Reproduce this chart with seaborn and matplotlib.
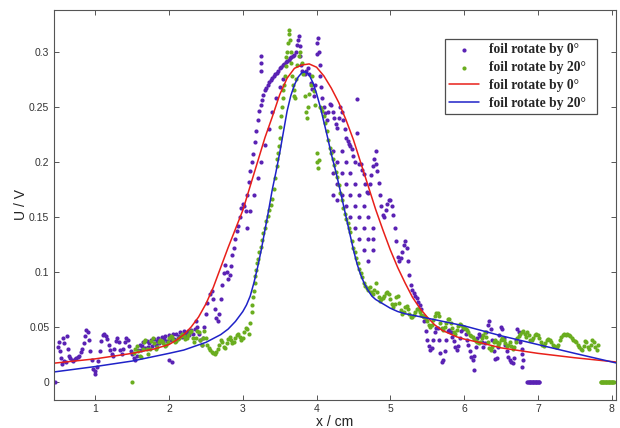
import matplotlib
matplotlib.use("Agg")
import matplotlib.pyplot as plt
import seaborn as sns
import pandas as pd

# ---------------- data ----------------
foil0_points = [
    (0.45, 0.000), (0.50, 0.032), (0.51, 0.036), (0.52, 0.028), (0.53, 0.022), (0.55, 0.016),
    (0.56, 0.040), (0.57, 0.035), (0.58, 0.019), (0.60, 0.018), (0.62, 0.042), (0.63, 0.030),
    (0.64, 0.024), (0.66, 0.022), (0.68, 0.020), (0.70, 0.019), (0.72, 0.021), (0.74, 0.022),
    (0.76, 0.023), (0.78, 0.024), (0.80, 0.027), (0.82, 0.030), (0.84, 0.035), (0.86, 0.042),
    (0.88, 0.047), (0.895, 0.045), (0.91, 0.038), (0.93, 0.028), (0.95, 0.020), (0.97, 0.012),
    (0.99, 0.007), (1.00, 0.010), (1.02, 0.014), (1.04, 0.019), (1.06, 0.028), (1.08, 0.037),
    (1.10, 0.043), (1.12, 0.044), (1.14, 0.042), (1.16, 0.039), (1.18, 0.034), (1.20, 0.029),
    (1.22, 0.025), (1.24, 0.024), (1.26, 0.030), (1.28, 0.037), (1.30, 0.040), (1.32, 0.036),
    (1.34, 0.029), (1.36, 0.025), (1.38, 0.030), (1.40, 0.036), (1.42, 0.040), (1.44, 0.038),
    (1.46, 0.033), (1.48, 0.028), (1.50, 0.025), (1.52, 0.022), (1.54, 0.020), (1.56, 0.024),
    (1.58, 0.029), (1.60, 0.034), (1.65, 0.036), (1.70, 0.037), (1.75, 0.038), (1.80, 0.039),
    (1.85, 0.040), (1.90, 0.041), (1.95, 0.042), (2.00, 0.043), (2.05, 0.044), (2.10, 0.044),
    (2.15, 0.045), (2.20, 0.046), (2.25, 0.046), (2.30, 0.047), (2.35, 0.048),
    (1.62, 0.029), (1.67, 0.031), (1.72, 0.032), (1.77, 0.033), (1.82, 0.034), (1.87, 0.035),
    (1.92, 0.036), (1.97, 0.037), (2.02, 0.038), (2.07, 0.039), (2.12, 0.040), (2.17, 0.041),
    (2.22, 0.042), (2.27, 0.043), (2.32, 0.044), (1.63, 0.033), (1.73, 0.035), (1.83, 0.037),
    (1.93, 0.039), (2.03, 0.041), (2.13, 0.042), (2.23, 0.044), (2.00, 0.020), (2.04, 0.018),
    (2.36, 0.055), (2.38, 0.050), (2.40, 0.044), (2.42, 0.038), (2.44, 0.034), (2.46, 0.040),
    (2.48, 0.050), (2.50, 0.062), (2.52, 0.072), (2.55, 0.080), (2.58, 0.083), (2.60, 0.075),
    (2.62, 0.066), (2.64, 0.058), (2.66, 0.055), (2.68, 0.062), (2.70, 0.075), (2.72, 0.088),
    (2.74, 0.099), (2.76, 0.106), (2.78, 0.100), (2.80, 0.094), (2.82, 0.097), (2.84, 0.105),
    (2.86, 0.115), (2.88, 0.122), (2.90, 0.130), (2.92, 0.137), (2.94, 0.142), (2.96, 0.150),
    (2.98, 0.158), (3.00, 0.162), (3.02, 0.160), (3.04, 0.155), (3.06, 0.170), (3.08, 0.182),
    (3.10, 0.192), (3.12, 0.200), (3.14, 0.207), (3.16, 0.218), (3.18, 0.228), (3.20, 0.238),
    (3.22, 0.246), (3.24, 0.252), (3.26, 0.256), (3.28, 0.261), (3.30, 0.265), (3.32, 0.267),
    (3.34, 0.270), (3.36, 0.273), (3.38, 0.274), (3.40, 0.276), (3.42, 0.278), (3.44, 0.280),
    (3.46, 0.281), (3.48, 0.283), (3.50, 0.285), (3.52, 0.286), (3.54, 0.288), (3.56, 0.289),
    (3.58, 0.291), (3.60, 0.292), (3.62, 0.293),
    (3.05, 0.140), (3.10, 0.155), (3.15, 0.170), (3.20, 0.185), (3.25, 0.200), (3.30, 0.215),
    (3.35, 0.230), (3.40, 0.245), (3.45, 0.258), (3.50, 0.268), (3.55, 0.275),
    (3.24, 0.296), (3.24, 0.290), (3.245, 0.283),
    (3.64, 0.294), (3.66, 0.295), (3.68, 0.296), (3.70, 0.297), (3.72, 0.300), (3.74, 0.306),
    (3.75, 0.311), (3.76, 0.314), (3.77, 0.305), (3.78, 0.296), (3.79, 0.288), (3.80, 0.283),
    (3.82, 0.281), (3.84, 0.280), (3.86, 0.283), (3.88, 0.285), (3.90, 0.280), (3.92, 0.272),
    (3.94, 0.266), (3.96, 0.260), (3.98, 0.270), (4.00, 0.298), (4.01, 0.308), (4.02, 0.313),
    (4.03, 0.300), (4.04, 0.288), (4.05, 0.278), (4.06, 0.268), (4.08, 0.258), (4.10, 0.250),
    (4.12, 0.244), (4.14, 0.238), (4.16, 0.245), (4.18, 0.253), (4.20, 0.252), (4.22, 0.245),
    (4.24, 0.240), (4.26, 0.234), (4.28, 0.231), (4.30, 0.240), (4.32, 0.250), (4.34, 0.245),
    (4.36, 0.238), (4.38, 0.230), (4.40, 0.222), (4.42, 0.219), (4.44, 0.216), (4.46, 0.214),
    (4.48, 0.212), (4.50, 0.205), (4.52, 0.200), (4.55, 0.226), (4.55, 0.257), (4.57, 0.198),
    (4.60, 0.198), (4.62, 0.193), (4.64, 0.189), (4.66, 0.180), (4.68, 0.173), (4.70, 0.172),
    (4.72, 0.180), (4.74, 0.188), (4.76, 0.196), (4.78, 0.203), (4.80, 0.210), (4.81, 0.198),
    (4.82, 0.192), (4.84, 0.181), (4.86, 0.170), (4.88, 0.160), (4.90, 0.152), (4.92, 0.150),
    (4.94, 0.156), (4.96, 0.162), (4.98, 0.165), (5.00, 0.165), (5.02, 0.160), (5.04, 0.152),
    (5.06, 0.140), (5.08, 0.128), (5.10, 0.114), (5.12, 0.110), (5.14, 0.113), (5.16, 0.118),
    (5.18, 0.124), (5.20, 0.128), (5.22, 0.122), (5.24, 0.110), (5.26, 0.097), (5.28, 0.088),
    (5.30, 0.084), (5.32, 0.081), (5.34, 0.078), (5.36, 0.076), (5.38, 0.073), (5.40, 0.070),
    (5.42, 0.066), (5.44, 0.060), (5.46, 0.055), (5.48, 0.046), (5.50, 0.038), (5.52, 0.033),
    (5.54, 0.029), (5.56, 0.031), (5.58, 0.038), (5.60, 0.045), (5.62, 0.049), (5.64, 0.049),
    (5.66, 0.038), (5.68, 0.026), (5.70, 0.018), (5.72, 0.020), (5.74, 0.028), (5.76, 0.038),
    (5.78, 0.046), (5.80, 0.047), (5.82, 0.045), (5.84, 0.041), (5.86, 0.037), (5.88, 0.032),
    (5.90, 0.029), (5.92, 0.033), (5.94, 0.040), (5.96, 0.046), (5.98, 0.048), (6.00, 0.050),
    (6.02, 0.044), (6.04, 0.038), (6.06, 0.034), (6.08, 0.028), (6.10, 0.023), (6.12, 0.020),
    (6.14, 0.024), (6.16, 0.032), (6.18, 0.040), (6.20, 0.044), (6.22, 0.042), (6.24, 0.036),
    (6.26, 0.032), (6.28, 0.035), (6.30, 0.045), (6.32, 0.052), (6.34, 0.055), (6.36, 0.048),
    (6.38, 0.038), (6.40, 0.028), (6.42, 0.021), (6.44, 0.022), (6.46, 0.032), (6.48, 0.043),
    (6.50, 0.050), (6.52, 0.048), (6.54, 0.040), (6.56, 0.034), (6.58, 0.028), (6.60, 0.023),
    (6.62, 0.020), (6.64, 0.018), (6.66, 0.017), (6.68, 0.022), (6.70, 0.038), (6.72, 0.048),
    (6.74, 0.045), (6.76, 0.036), (6.78, 0.025), (6.79, 0.014), (6.78, 0.030), (6.80, 0.020),
    (6.13, 0.011), (4.77, 0.130), (4.77, 0.120), (4.77, 0.140),
    (4.22, 0.170), (4.22, 0.190), (4.22, 0.210), (4.28, 0.180), (4.28, 0.200), (4.28, 0.165),
    (4.34, 0.190), (4.34, 0.210), (4.34, 0.170), (4.40, 0.160), (4.40, 0.180), (4.40, 0.200),
    (4.46, 0.150), (4.46, 0.170), (4.46, 0.190), (4.52, 0.140), (4.52, 0.160), (4.52, 0.180),
    (4.58, 0.130), (4.58, 0.150), (4.58, 0.170), (4.64, 0.120), (4.64, 0.140), (4.64, 0.160),
    (4.70, 0.110), (4.70, 0.130), (4.70, 0.150),
    (6.86, 0.0), (6.87, 0.0), (6.88, 0.0), (6.89, 0.0), (6.90, 0.0), (6.91, 0.0), (6.92, 0.0),
    (6.93, 0.0), (6.94, 0.0), (6.95, 0.0), (6.96, 0.0), (6.97, 0.0), (6.98, 0.0), (6.99, 0.0),
    (7.00, 0.0), (7.01, 0.0), (7.02, 0.0),
]

foil20_points = [
    (1.50, 0.000), (1.52, 0.026), (1.54, 0.030), (1.56, 0.033), (1.58, 0.028), (1.60, 0.024),
    (1.62, 0.023), (1.64, 0.030), (1.66, 0.036), (1.68, 0.038), (1.70, 0.030), (1.72, 0.025),
    (1.74, 0.030), (1.76, 0.037), (1.78, 0.040), (1.80, 0.035), (1.82, 0.030), (1.84, 0.032),
    (1.86, 0.036), (1.88, 0.038), (1.90, 0.037), (1.92, 0.035), (1.94, 0.033), (1.96, 0.034),
    (1.98, 0.036), (2.00, 0.040), (2.02, 0.042), (2.04, 0.041), (2.06, 0.038), (2.08, 0.036),
    (2.10, 0.037), (2.12, 0.039), (2.14, 0.040), (2.16, 0.042), (2.18, 0.044), (2.20, 0.042),
    (2.22, 0.039), (2.24, 0.040), (2.26, 0.043), (2.28, 0.045), (2.30, 0.046), (2.32, 0.040),
    (2.34, 0.036), (2.36, 0.040), (2.38, 0.046), (2.40, 0.045), (2.42, 0.038), (2.44, 0.034),
    (2.46, 0.040), (2.48, 0.046), (2.50, 0.040), (2.52, 0.034), (2.54, 0.031), (2.56, 0.029),
    (2.58, 0.027), (2.60, 0.026), (2.62, 0.025), (2.64, 0.027), (2.66, 0.030), (2.68, 0.034),
    (2.70, 0.038), (2.72, 0.036), (2.74, 0.032), (2.76, 0.031), (2.78, 0.035), (2.80, 0.039),
    (2.82, 0.041), (2.84, 0.038), (2.86, 0.035), (2.88, 0.036), (2.90, 0.040), (2.92, 0.043),
    (2.94, 0.044), (2.96, 0.041), (2.98, 0.038), (3.00, 0.040), (3.02, 0.045), (3.04, 0.049),
    (3.06, 0.048), (3.08, 0.044), (3.10, 0.054), (3.12, 0.064), (3.13, 0.070), (3.14, 0.077),
    (3.15, 0.083), (3.16, 0.090), (3.17, 0.096), (3.18, 0.102), (3.19, 0.108), (3.20, 0.112),
    (3.22, 0.118), (3.24, 0.123), (3.26, 0.129), (3.28, 0.135), (3.30, 0.140), (3.32, 0.146),
    (3.34, 0.151), (3.36, 0.156), (3.38, 0.161), (3.40, 0.166), (3.42, 0.175), (3.44, 0.185),
    (3.46, 0.196), (3.47, 0.203), (3.48, 0.208), (3.49, 0.214), (3.50, 0.222), (3.51, 0.232),
    (3.52, 0.242), (3.53, 0.250), (3.54, 0.258), (3.55, 0.265), (3.56, 0.270), (3.57, 0.278),
    (3.58, 0.287), (3.59, 0.295), (3.60, 0.300), (3.61, 0.308), (3.62, 0.316), (3.63, 0.320),
    (3.64, 0.311), (3.65, 0.300), (3.66, 0.290), (3.67, 0.278), (3.68, 0.270), (3.69, 0.265),
    (3.70, 0.260), (3.71, 0.258), (3.72, 0.275), (3.74, 0.288), (3.76, 0.296), (3.78, 0.300),
    (3.80, 0.290), (3.82, 0.280), (3.84, 0.260), (3.86, 0.245), (3.87, 0.240), (3.88, 0.250),
    (3.90, 0.262), (3.92, 0.270), (3.94, 0.278), (3.96, 0.264), (3.98, 0.252), (4.01, 0.208),
    (4.01, 0.200), (4.02, 0.194), (4.03, 0.202), (4.04, 0.250), (4.06, 0.249), (4.08, 0.246),
    (4.10, 0.242), (4.12, 0.235), (4.14, 0.228), (4.16, 0.220), (4.18, 0.213), (4.20, 0.208),
    (4.22, 0.203), (4.24, 0.197), (4.26, 0.191), (4.28, 0.186), (4.30, 0.179), (4.32, 0.172),
    (4.34, 0.165), (4.36, 0.158), (4.38, 0.153), (4.40, 0.148), (4.42, 0.144), (4.44, 0.140),
    (4.46, 0.136), (4.48, 0.128), (4.50, 0.122), (4.52, 0.118), (4.54, 0.113), (4.56, 0.108),
    (4.58, 0.103), (4.60, 0.099), (4.62, 0.095), (4.64, 0.090), (4.66, 0.087), (4.68, 0.085),
    (4.70, 0.084), (4.72, 0.086), (4.74, 0.082), (4.76, 0.080), (4.78, 0.084), (4.80, 0.090),
    (4.82, 0.082), (4.84, 0.077), (4.86, 0.074), (4.88, 0.075), (4.90, 0.076), (4.92, 0.078),
    (4.94, 0.081), (4.96, 0.082), (4.98, 0.080), (5.00, 0.075), (5.02, 0.071), (5.04, 0.068),
    (5.06, 0.071), (5.08, 0.077), (5.10, 0.078), (5.12, 0.072), (5.14, 0.065), (5.16, 0.062),
    (5.18, 0.064), (5.20, 0.068), (5.22, 0.069), (5.24, 0.066), (5.26, 0.062), (5.28, 0.059),
    (5.30, 0.059), (5.32, 0.061), (5.34, 0.064), (5.36, 0.066), (5.38, 0.066), (5.40, 0.064),
    (5.42, 0.061), (5.44, 0.060), (5.46, 0.059), (5.48, 0.058), (5.50, 0.055), (5.52, 0.052),
    (5.54, 0.050), (5.56, 0.052), (5.58, 0.056), (5.60, 0.060), (5.62, 0.063), (5.64, 0.063),
    (5.66, 0.060), (5.68, 0.054), (5.70, 0.049), (5.72, 0.047), (5.74, 0.050), (5.76, 0.054),
    (5.78, 0.057), (5.80, 0.057), (5.82, 0.054), (5.84, 0.049), (5.86, 0.045), (5.88, 0.044),
    (5.90, 0.047), (5.92, 0.051), (5.94, 0.053), (5.96, 0.052), (5.98, 0.050), (6.00, 0.049),
    (6.02, 0.048), (6.04, 0.047), (6.06, 0.045), (6.08, 0.043), (6.10, 0.042), (6.12, 0.041),
    (6.14, 0.039), (6.16, 0.037), (6.18, 0.036), (6.20, 0.035), (6.22, 0.036), (6.24, 0.040),
    (6.26, 0.043), (6.28, 0.045), (6.30, 0.041), (6.32, 0.036), (6.34, 0.031), (6.36, 0.029),
    (6.38, 0.032), (6.40, 0.036), (6.42, 0.038), (6.44, 0.036), (6.46, 0.034), (6.48, 0.035),
    (6.50, 0.038), (6.52, 0.040), (6.54, 0.038), (6.56, 0.035), (6.58, 0.033), (6.60, 0.034),
    (6.62, 0.036), (6.64, 0.033), (6.66, 0.030), (6.68, 0.032), (6.70, 0.036), (6.72, 0.040),
    (6.74, 0.042), (6.76, 0.044), (6.78, 0.045), (6.80, 0.046), (6.82, 0.044), (6.84, 0.041),
    (6.86, 0.045), (6.88, 0.043), (6.90, 0.038), (6.92, 0.038), (6.94, 0.040), (6.96, 0.043),
    (6.98, 0.044), (7.00, 0.043), (7.02, 0.040), (7.04, 0.036), (7.06, 0.034), (7.08, 0.033),
    (7.10, 0.035), (7.12, 0.038), (7.14, 0.039), (7.16, 0.038), (7.18, 0.036), (7.20, 0.034),
    (7.22, 0.033), (7.24, 0.032), (7.26, 0.032), (7.28, 0.034), (7.30, 0.038), (7.32, 0.041),
    (7.34, 0.043), (7.36, 0.044), (7.38, 0.043), (7.40, 0.044), (7.42, 0.043), (7.44, 0.042),
    (7.46, 0.040), (7.48, 0.038), (7.50, 0.037), (7.52, 0.036), (7.54, 0.034), (7.56, 0.032),
    (7.58, 0.030), (7.60, 0.029), (7.62, 0.033), (7.64, 0.037), (7.66, 0.036), (7.68, 0.032),
    (7.70, 0.030), (7.72, 0.034), (7.74, 0.038), (7.76, 0.036), (7.78, 0.032), (7.80, 0.029),
    (7.82, 0.034),
    (7.85, 0.0), (7.86, 0.0), (7.87, 0.0), (7.88, 0.0), (7.89, 0.0), (7.90, 0.0), (7.91, 0.0),
    (7.92, 0.0), (7.93, 0.0), (7.94, 0.0), (7.95, 0.0), (7.96, 0.0), (7.97, 0.0), (7.98, 0.0),
    (7.99, 0.0), (8.00, 0.0), (8.01, 0.0), (8.02, 0.0), (8.03, 0.0),
]

fit0_x = [0.43, 1.0, 1.5, 1.8, 2.0, 2.1, 2.2, 2.3, 2.4, 2.5, 2.6, 2.7, 2.8, 2.9, 3.0, 3.1,
          3.2, 3.3, 3.4, 3.5, 3.6, 3.7, 3.8, 3.9, 4.0, 4.1, 4.2, 4.3, 4.4, 4.5, 4.6, 4.7,
          4.8, 4.9, 5.0, 5.1, 5.2, 5.3, 5.4, 5.5, 5.6, 5.7, 5.8, 5.9, 6.0, 6.2, 6.5, 7.0,
          7.5, 8.08]
fit0_y = [0.017, 0.021, 0.026, 0.030, 0.034, 0.038, 0.043, 0.050, 0.059, 0.071, 0.086, 0.104,
          0.122, 0.139, 0.156, 0.178, 0.200, 0.222, 0.241, 0.261, 0.276, 0.285, 0.288, 0.289,
          0.286, 0.278, 0.267, 0.254, 0.238, 0.220, 0.199, 0.178, 0.157, 0.138, 0.120, 0.104,
          0.090, 0.077, 0.067, 0.059, 0.052, 0.047, 0.044, 0.041, 0.039, 0.036, 0.031, 0.026,
          0.022, 0.018]

fit20_x = [0.43, 1.0, 1.5, 2.0, 2.2, 2.5, 2.7, 2.8, 2.9, 3.0, 3.05, 3.1, 3.15, 3.2, 3.25, 3.3,
           3.35, 3.4, 3.45, 3.5, 3.55, 3.6, 3.65, 3.7, 3.75, 3.8, 3.85, 3.9, 3.95, 4.0, 4.05,
           4.1, 4.15, 4.2, 4.25, 4.3, 4.35, 4.4, 4.45, 4.5, 4.55, 4.6, 4.65, 4.7, 4.75, 4.8,
           4.9, 5.0, 5.1, 5.2, 5.5, 6.0, 6.5, 7.0, 7.5, 8.08]
fit20_y = [0.009, 0.014, 0.019, 0.026, 0.029, 0.036, 0.043, 0.048, 0.055, 0.064, 0.070, 0.078,
           0.090, 0.104, 0.120, 0.138, 0.156, 0.175, 0.191, 0.208, 0.227, 0.246, 0.260, 0.270,
           0.277, 0.281, 0.282, 0.279, 0.272, 0.262, 0.250, 0.236, 0.222, 0.207, 0.194, 0.180,
           0.165, 0.150, 0.135, 0.120, 0.107, 0.097, 0.089, 0.083, 0.078, 0.075, 0.071, 0.067,
           0.064, 0.062, 0.058, 0.051, 0.042, 0.034, 0.026, 0.017]

x_ticks = [1, 2, 3, 4, 5, 6, 7, 8]
y_ticks = [0, 0.05, 0.1, 0.15, 0.2, 0.25, 0.3]
y_tick_labels = ["0", "0.05", "0.1", "0.15", "0.2", "0.25", "0.3"]
labels = ["foil rotate by 0°", "foil rotate by 20°", "foil rotate by 0°", "foil rotate by 20°"]

# ---------------- styling ----------------
sns.set_theme(style="white")
plt.rcParams["font.family"] = ["Liberation Sans", "DejaVu Sans"]

PURPLE = "#5a22b4"
GREEN = "#6aad1f"
RED = "#e8201a"
BLUE = "#1f22c8"
FRAME = "#555555"

fig = plt.figure(figsize=(6.2, 4.28), dpi=100)
ax = fig.add_axes([53.5 / 620, 28 / 428, (616 - 53.5) / 620, 390 / 428])

df0 = pd.DataFrame(foil0_points, columns=["x", "y"])
df20 = pd.DataFrame(foil20_points, columns=["x", "y"])

sns.scatterplot(data=df0, x="x", y="y", ax=ax, color=PURPLE, s=9, linewidth=0,
                marker="o", label=labels[0])
sns.scatterplot(data=df20, x="x", y="y", ax=ax, color=GREEN, s=9, linewidth=0,
                marker="o", label=labels[1])
sns.lineplot(x=fit0_x, y=fit0_y, ax=ax, color=RED, linewidth=1.1, sort=False,
             estimator=None, label=labels[2])
sns.lineplot(x=fit20_x, y=fit20_y, ax=ax, color=BLUE, linewidth=1.1, sort=False,
             estimator=None, label=labels[3])

ax.set_xlim(0.433, 8.06)
ax.set_ylim(-0.0164, 0.338)
ax.set_xticks(x_ticks)
ax.set_xticklabels([str(t) for t in x_ticks])
ax.set_yticks(y_ticks)
ax.set_yticklabels(y_tick_labels)

ax.tick_params(direction="in", length=3.5, width=0.7, color=FRAME, labelsize=7.5,
               labelcolor="#333333", top=True, right=True, bottom=True, left=True, pad=3)
for sp in ax.spines.values():
    sp.set_visible(True)
    sp.set_color(FRAME)
    sp.set_linewidth(0.8)

ax.set_xlabel("x / cm", fontsize=10, color="#222222", labelpad=0.5)
ax.set_ylabel("U / V", fontsize=10, color="#222222", labelpad=1)

handles, labs = ax.get_legend_handles_labels()
leg = ax.legend(handles, [l + "  " for l in labs], loc="upper right",
                bbox_to_anchor=(597 / 620, 1 - 39 / 428), bbox_transform=fig.transFigure,
                borderaxespad=0, frameon=True, fancybox=False, shadow=False,
                prop={"family": "Liberation Serif", "weight": "bold", "size": 9.8},
                handlelength=2.2, handletextpad=0.75, labelspacing=0.36, borderpad=0.32,
                markerscale=1.0)
leg.get_frame().set_edgecolor("#222222")
leg.get_frame().set_linewidth(0.9)

fig.savefig("out.png", dpi=100, facecolor="white")
